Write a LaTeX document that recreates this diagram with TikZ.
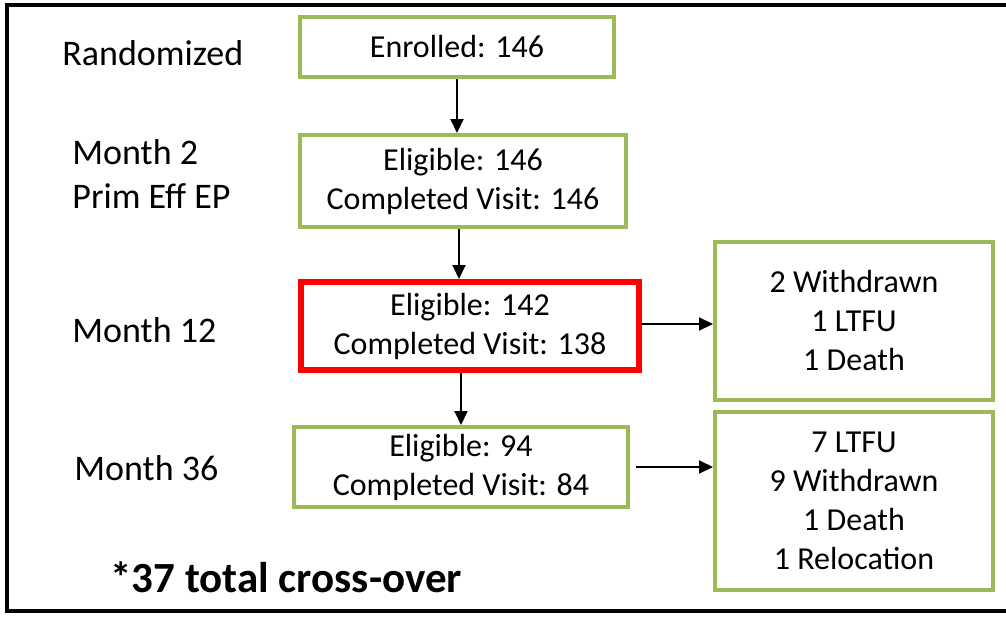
\documentclass[tikz,border=0pt]{standalone}
\usepackage{fontspec}
\setmainfont{Carlito}
\usetikzlibrary{arrows.meta}
\definecolor{boxgreen}{RGB}{155,187,89}

\tikzset{
  greenbox/.style={draw=boxgreen, line width=2pt, align=center, inner sep=0pt,
    font=\fontsize{16}{19.5}\selectfont},
  redbox/.style={greenbox, draw=red, line width=3pt},
  stagelbl/.style={anchor=west, align=left, inner sep=0pt,
    font=\fontsize{18}{22}\selectfont},
  flow/.style={-{Triangle[length=7pt,width=6.5pt]}, line width=1pt}
}

\begin{document}
\begin{tikzpicture}[x=0.5pt, y=-0.5pt]
   \useasboundingbox (0,0) rectangle (1006,616);
   \draw[line width=2pt] (7,5) rectangle (1015,611);
   % stage labels
   \node[stagelbl] (lrand) at (62,53) {Randomized};
   \node[stagelbl] (lm2) at (72,174) {Month 2\\Prim Eff EP};
   \node[stagelbl] (lm12) at (72,330) {Month 12};
   \node[stagelbl] (lm36) at (74,468) {Month 36};
   \node[stagelbl, font=\fontsize{21.5}{25}\bfseries] (lcross) at (110,577) {*37 total cross-over};
   % main flow
   \node[greenbox, minimum width=157pt, minimum height=30pt] (enr) at (457,47) {Enrolled: 146};
   \node[greenbox, minimum width=163pt, minimum height=46pt] (m2) at (463,181) {Eligible: 146\\Completed Visit: 146};
   \node[redbox, minimum width=169pt, minimum height=44pt] (m12) at (470,326) {Eligible: 142\\Completed Visit: 138};
   \node[greenbox, minimum width=167pt, minimum height=40pt] (m36) at (461,467) {Eligible: 94\\Completed Visit: 84};
   % drop-outs
   \node[greenbox, minimum width=139pt, minimum height=79pt] (out12) at (854,321) {2 Withdrawn\\1 LTFU\\1 Death};
   \node[greenbox, minimum width=139pt, minimum height=89pt] (out36) at (854,501) {7 LTFU\\9 Withdrawn\\1 Death\\1 Relocation};
   \draw[flow] (enr.south) -- (enr.south |- m2.north);
   \draw[flow] ([xshift=-2pt]m2.south) -- ([xshift=-2pt]m2.south |- m12.north);
   \draw[flow] (m36.north |- m12.south) -- (m36.north);
   \draw[flow] ([yshift=1pt]m12.east) -- ([yshift=1pt]m12.east -| out12.west);
   \draw[flow] ([xshift=3pt]m36.east) -- (m36.east -| out36.west);
\end{tikzpicture}
\end{document}
